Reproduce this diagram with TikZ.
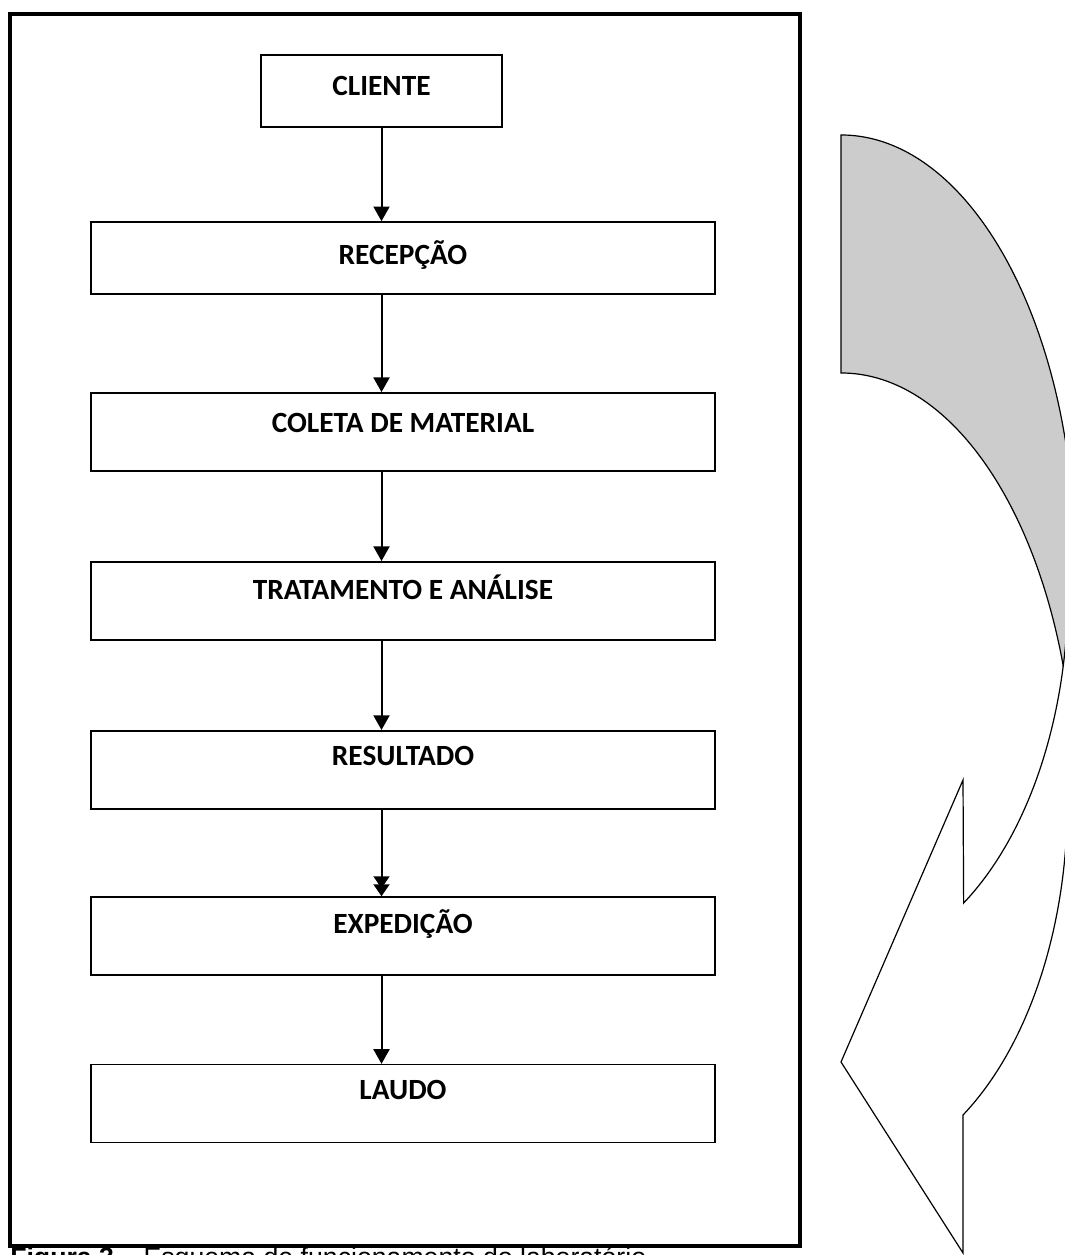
\documentclass[tikz,border=0pt]{standalone}
\usepackage{fontspec}
\setmainfont{Carlito}
\newfontfamily\arialfont{Liberation Sans}
\usetikzlibrary{positioning,arrows.meta}

\begin{document}
\begin{tikzpicture}[
    x=0.75pt, y=0.75pt,
    etapa/.style={rectangle, draw, line width=1.2pt, align=center, minimum width=468pt, minimum height=58.5pt, text depth=21pt, font=\fontsize{22}{26}\selectfont\bfseries},
    seta/.style={-{Triangle[width=12pt,length=11pt]}, line width=1.5pt},
    dupla/.style={-{Triangle[width=12pt,length=9pt,sep=-3pt]Triangle[width=12pt,length=9pt]}, line width=1.5pt},
    verso/.style={draw, line width=0.9pt, fill=black!20},
    frente/.style={draw, line width=0.9pt, fill=white}
]
\useasboundingbox (0,0) rectangle (1064,1255);

% Moldura
\draw[line width=3pt] (10,9) rectangle (800,1241);

% Etapas
\node (cliente) [etapa, minimum width=181pt, minimum height=54pt, text depth=8pt] at (381.5,1164) {CLIENTE};
\node (recepcao) [etapa, minimum height=54pt, text depth=8pt] at (403,997) {RECEPÇÃO};
\node (coleta) [etapa, below=73pt of recepcao, text depth=13pt] {COLETA DE MATERIAL};
\node (tratamento) [etapa, below=67pt of coleta] {TRATAMENTO E ANÁLISE};
\node (resultado) [etapa, below=67pt of tratamento] {RESULTADO};
\node (expedicao) [etapa, below=65pt of resultado] {EXPEDIÇÃO};
\node (laudo) [etapa, below=66pt of expedicao] {LAUDO};

% Setas
\draw [seta] (cliente.south) -- (cliente.south |- recepcao.north);
\draw [seta] (recepcao.south -| cliente.south) -- (coleta.north -| cliente.south);
\draw [seta] (coleta.south -| cliente.south) -- (tratamento.north -| cliente.south);
\draw [seta] (tratamento.south -| cliente.south) -- (resultado.north -| cliente.south);
\draw [dupla] (resultado.south -| cliente.south) -- (expedicao.north -| cliente.south);
\draw [seta] (expedicao.south -| cliente.south) -- (laudo.north -| cliente.south);

% Seta curva (lado direito)
\path [verso] (841,1120) arc[start angle=90, end angle=0, x radius=175.5pt, y radius=320.25pt]
  -- (1075,455) arc[start angle=0, end angle=90, x radius=175.5pt, y radius=320.25pt] -- cycle;
\path [frente] (1068,665) arc[start angle=0, end angle=-57.3, x radius=170.25pt, y radius=279pt]
  -- (963,475) -- (841,193) -- (963,2) -- (963,140)
  arc[start angle=-57.3, end angle=0, x radius=170.25pt, y radius=279pt] -- cycle;

% Legenda
\node (legenda) [anchor=north west, inner sep=0pt, font=\arialfont\fontsize{20}{24}\selectfont] at (10,8)
  {\textbf{Figura 3} – Esquema de funcionamento do laboratório};

\end{tikzpicture}
\end{document}
